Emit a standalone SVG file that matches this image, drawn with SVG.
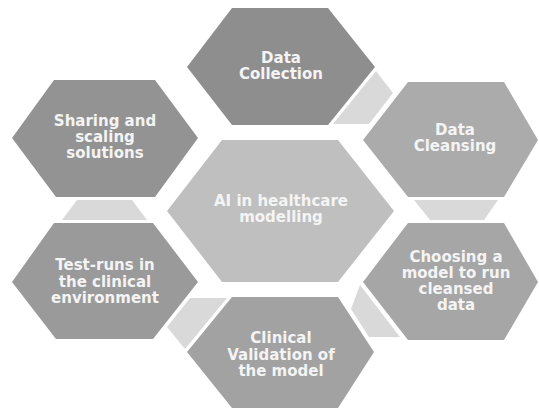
<svg xmlns="http://www.w3.org/2000/svg" width="539" height="413" viewBox="0 0 539 413">
<style>
.lbl{font-family:"DejaVu Sans",Verdana,sans-serif;font-weight:bold;font-size:15px;fill:#f4f4f4;text-anchor:middle}
.conn{fill:#d9d9d9}
</style>
<rect width="539" height="413" fill="#ffffff"/>
<g id="connectors">
<polygon class="conn" points="376,71 393,93 369,124 333,124"/>
<polygon class="conn" points="414,200 498,200 484,220 430,220"/>
<polygon class="conn" points="360,285 400,337 369,337 351,309"/>
<polygon class="conn" points="190,298 227,298 185,349 167,327"/>
<polygon class="conn" points="77,200 132,200 147,220 62,220"/>
</g>
<g id="center">
<polygon points="222,140 338,140 394,211 338,282 222,282 167,211" fill="#bfbfbf"/>
<text class="lbl" x="281" y="206">AI in healthcare</text>
<text class="lbl" x="281" y="222">modelling</text>
</g>
<g id="data-collection">
<polygon points="232,8 328,8 375,67 328,125 232,125 187,67" fill="#8e8e8e"/>
<text class="lbl" x="281" y="63">Data</text>
<text class="lbl" x="281" y="79">Collection</text>
</g>
<g id="data-cleansing">
<polygon points="408,82 504,82 538,140 504,197 408,197 363,140" fill="#ababab"/>
<text class="lbl" x="455" y="135">Data</text>
<text class="lbl" x="455" y="151">Cleansing</text>
</g>
<g id="choosing-model">
<polygon points="408,223 504,223 538,282 504,340 408,340 363,282" fill="#a6a6a6"/>
<text class="lbl" x="456" y="262">Choosing a</text>
<text class="lbl" x="456" y="278">model to run</text>
<text class="lbl" x="456" y="294">cleansed</text>
<text class="lbl" x="456" y="310">data</text>
</g>
<g id="clinical-validation">
<polygon points="232,297 338,297 374,352 338,408 232,408 187,352" fill="#a2a2a2"/>
<text class="lbl" x="281" y="343">Clinical</text>
<text class="lbl" x="281" y="360">Validation of</text>
<text class="lbl" x="281" y="376">the model</text>
</g>
<g id="test-runs">
<polygon points="54,223 153,223 198,282 153,339 56,339 12,282" fill="#9a9a9a"/>
<text class="lbl" x="105" y="270">Test-runs in</text>
<text class="lbl" x="105" y="287">the clinical</text>
<text class="lbl" x="105" y="303">environment</text>
</g>
<g id="sharing-scaling">
<polygon points="54,80 155,80 198,138 155,197 56,197 12,138" fill="#939393"/>
<text class="lbl" x="105" y="126">Sharing and</text>
<text class="lbl" x="105" y="142">scaling</text>
<text class="lbl" x="105" y="158">solutions</text>
</g>
</svg>
